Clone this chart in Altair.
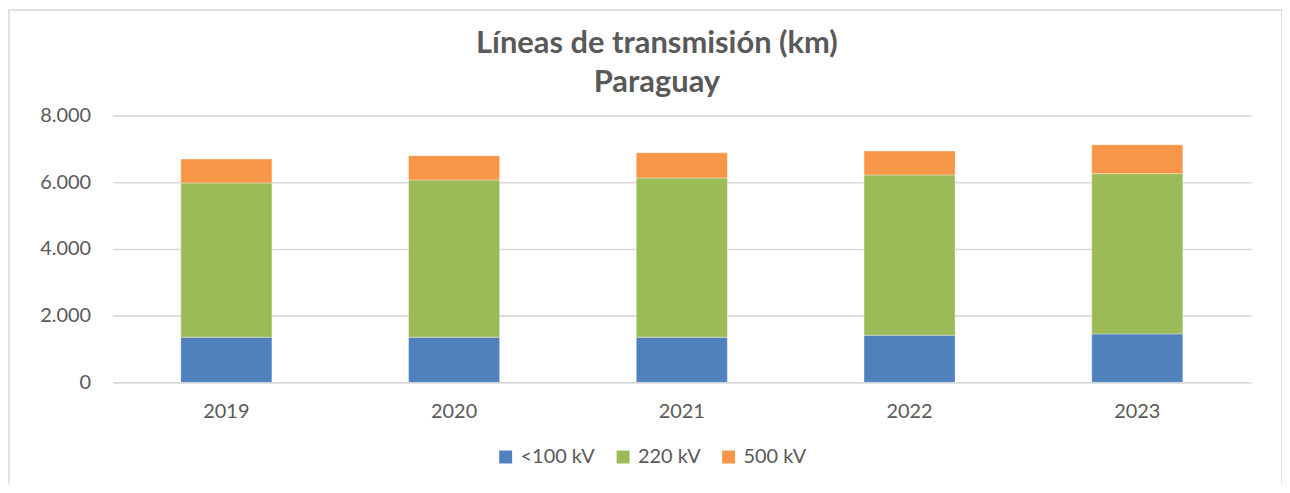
import altair as alt
import pandas as pd

years = ["2019", "2020", "2021", "2022", "2023"]
series = ["<100 kV", "220 kV", "500 kV"]
v_lt100 = [1355, 1355, 1355, 1415, 1454]
v_220 = [4627, 4716, 4776, 4806, 4806]
v_500 = [716, 726, 755, 716, 865]
colors = ["#4f81bd", "#9bbb59", "#f79646"]
y_ticks = [0, 2000, 4000, 6000, 8000]
title_lines = ["Líneas de transmisión (km)", "Paraguay"]

rows = []
for i, y in enumerate(years):
    for k, (s, vals) in enumerate(zip(series, [v_lt100, v_220, v_500])):
        rows.append({"year": y, "serie": s, "km": vals[i], "ord": k})
df = pd.DataFrame(rows)

FONT = "Lato"
GREY = "#595959"

bars = alt.Chart(df).mark_bar(stroke="#ffffff", strokeWidth=0.6, strokeOpacity=0.6).encode(
    x=alt.X("year:N", title=None, sort=years,
            scale=alt.Scale(paddingInner=0.6, paddingOuter=0.3),
            axis=alt.Axis(labelAngle=0, ticks=False, domain=False, labelPadding=19,
                          labelFont=FONT, labelFontSize=20, labelColor=GREY)),
    y=alt.Y("km:Q", title=None, stack="zero",
            scale=alt.Scale(domain=[0, 8000], nice=False),
            axis=alt.Axis(values=y_ticks, ticks=False, domain=False, labelPadding=22,
                          labelFont=FONT, labelFontSize=20, labelColor=GREY,
                          gridColor="#d9d9d9", gridWidth=1.6,
                          labelExpr="replace(format(datum.value, ','), ',', '.')")),
    color=alt.Color("serie:N", sort=series,
                    scale=alt.Scale(domain=series, range=colors),
                    legend=alt.Legend(title=None, orient="none", direction="horizontal",
                                      legendX=385, legendY=333,
                                      symbolType="square", symbolSize=169,
                                      symbolStrokeWidth=0, labelFont=FONT,
                                      labelFontSize=20, labelColor=GREY,
                                      labelOffset=5, columnPadding=18)),
    order=alt.Order("ord:Q", sort="ascending"),
)

border = alt.Chart(pd.DataFrame({"a": [0]})).mark_rect(
    fill="transparent", stroke="#d9d9d9", strokeWidth=1.5
).encode(x=alt.value(-104), x2=alt.value(1175), y=alt.value(-106), y2=alt.value(420))

t1 = alt.Chart(pd.DataFrame({"t": [title_lines[0]]})).mark_text(
    font=FONT, fontSize=31, fontWeight="bold", color=GREY, align="center", baseline="middle"
).encode(text="t:N", x=alt.value(547), y=alt.value(-72))
t2 = alt.Chart(pd.DataFrame({"t": [title_lines[1]]})).mark_text(
    font=FONT, fontSize=31, fontWeight="bold", color=GREY, align="center", baseline="middle"
).encode(text="t:N", x=alt.value(547), y=alt.value(-33))

chart = alt.layer(bars, border, t1, t2).properties(
    width=1144, height=268,
    autosize=alt.AutoSizeParams(type="none"),
    padding={"left": 105, "top": 107, "right": 31, "bottom": 101},
).configure_view(stroke=None)

chart.save("out.html", embed_options={"renderer": "svg", "actions": False})
